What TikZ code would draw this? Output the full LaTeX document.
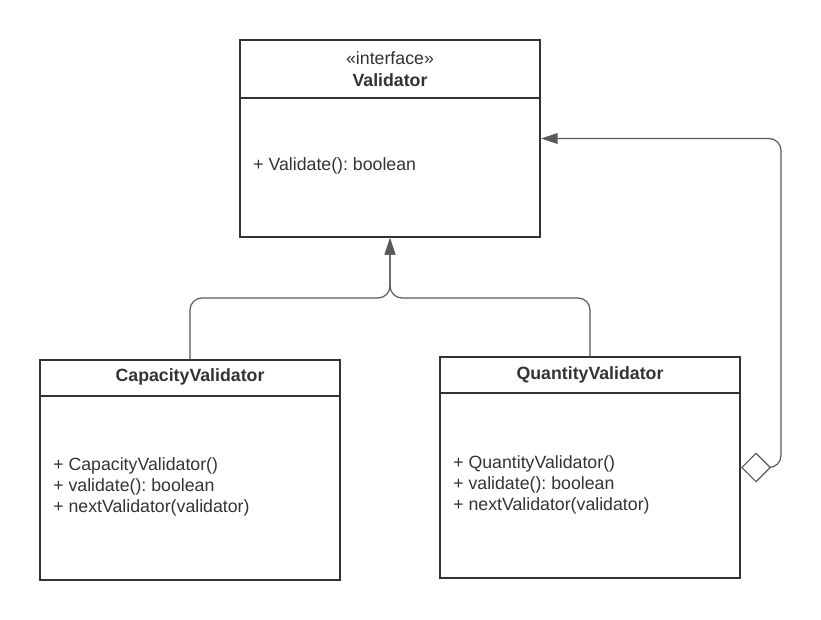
\documentclass[tikz,border=0pt]{standalone}
\usepackage{fontspec}
\setmainfont{Liberation Sans}
\usetikzlibrary{arrows.meta}
\frenchspacing

\definecolor{umlink}{HTML}{333333}
\definecolor{linkgray}{HTML}{595959}

\tikzset{
    classbox/.style={draw=umlink, line width=1.5pt, minimum width=225pt, inner sep=0pt},
    divider/.style={draw=umlink, line width=1.5pt},
    umltext/.style={text=umlink, inner sep=0pt, font=\fontsize{13.3}{16.5}\selectfont},
    opstext/.style={umltext, anchor=west, align=left, font=\fontsize{13.3}{15.75}\selectfont},
    realize/.style={draw=linkgray, line width=0.9pt, rounded corners=9pt,
        -{Triangle[length=12.5pt, width=8pt]}},
    assoc/.style={draw=linkgray, line width=0.9pt, rounded corners=9pt,
        {Diamond[open, length=22.5pt, width=22.5pt, fill=white]}-{Triangle[length=12.5pt, width=8pt]}}
}

\begin{document}
\begin{tikzpicture}[x=0.75pt, y=-0.75pt]
    \useasboundingbox (0,0) rectangle (821,620);

    % interface
    \node[classbox, minimum height=147.75pt] (val) at (390,138.5) {};
    \draw[divider] ([yshift=-44.25pt]val.north west) -- ([yshift=-44.25pt]val.north east);
    \node[umltext, align=center] (valhead) at (390,69) {«interface»\\\textbf{Validator}};
    \node[opstext] (valops) at (253,166) {+ Validate(): boolean};

    % implementations
    \node[classbox, minimum height=165pt] (cap) at (190,470) {};
    \draw[divider] ([yshift=-27.75pt]cap.north west) -- ([yshift=-27.75pt]cap.north east);
    \node[umltext] (caphead) at (190,377) {\textbf{CapacityValidator}};
    \node[opstext] (capops) at (53,487)
        {+ CapacityValidator()\\+ validate(): boolean\\+ nextValidator(validator)};

    \node[classbox, minimum height=165.75pt] (qty) at (590,467.5) {};
    \draw[divider] ([yshift=-27.75pt]qty.north west) -- ([yshift=-27.75pt]qty.north east);
    \node[umltext] (qtyhead) at (590,375) {\textbf{QuantityValidator}};
    \node[opstext] (qtyops) at (453,485)
        {+ QuantityValidator()\\+ validate(): boolean\\+ nextValidator(validator)};

    % connectors
    \coordinate (join) at (390,298);
    \draw[realize] (cap.north) |- (join) -- (val.south);
    \draw[realize] (qty.north) |- (join) -- (val.south);
    \draw[assoc] (qty.east) -- ++(40,0) |- (val.east);
\end{tikzpicture}
\end{document}
